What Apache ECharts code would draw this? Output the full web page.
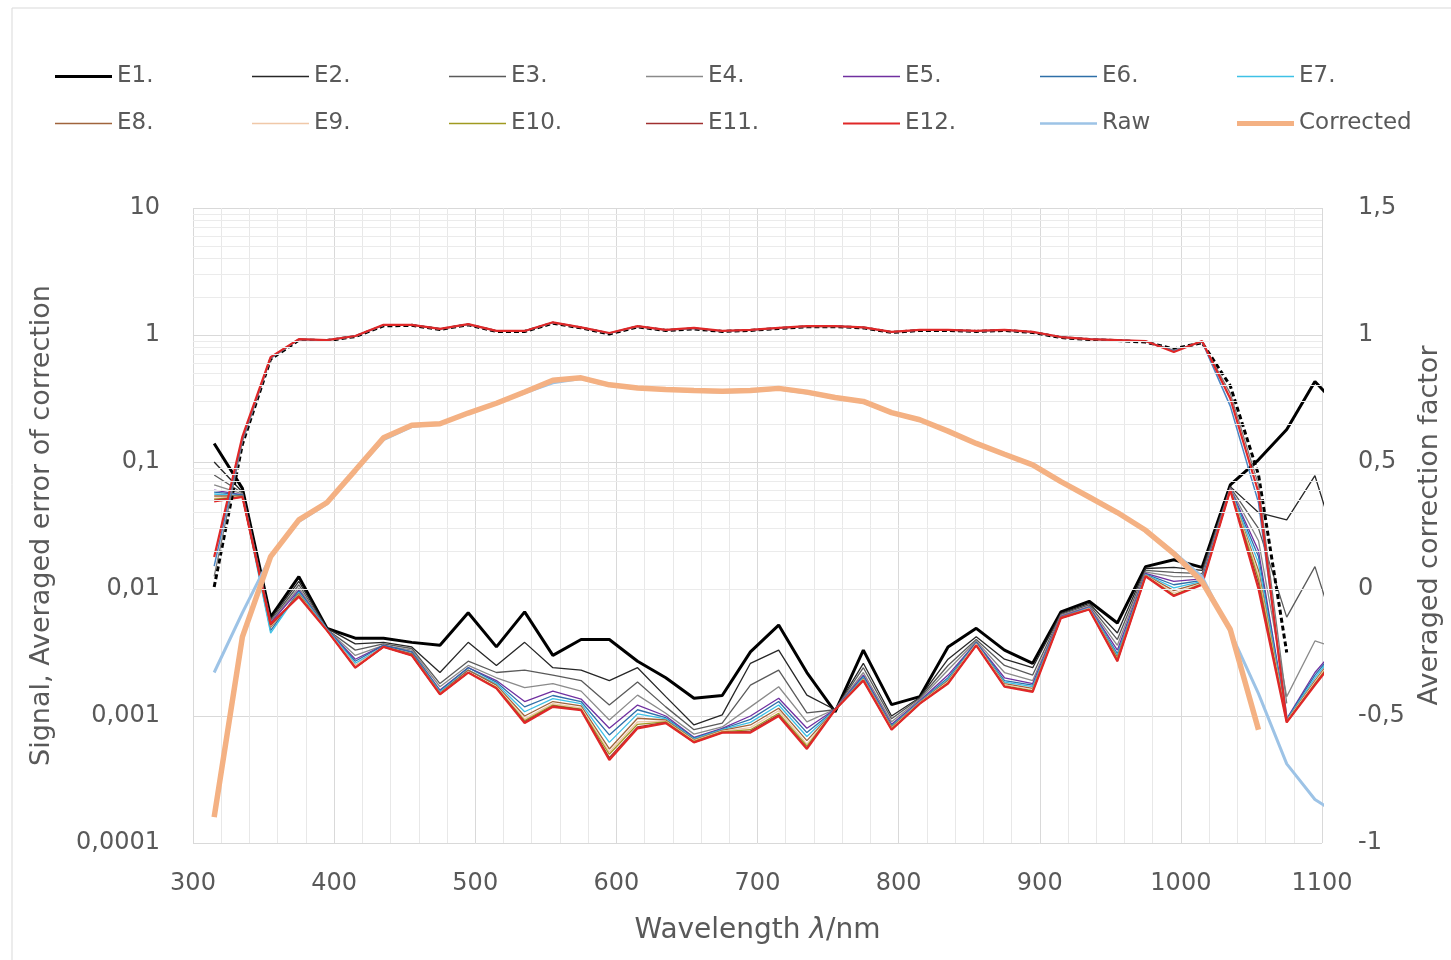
<!DOCTYPE html>
<html>
<head>
<meta charset="utf-8">
<script src="https://cdn.jsdelivr.net/npm/echarts@6/dist/echarts.min.js"></script>
<style>html,body{margin:0;padding:0;background:#fff}#chart{width:1451px;height:960px}</style>
</head>
<body>
<div id="chart"></div>
<script>
// ---- Data ----
const wavelengths = [315,335,355,375,395,415,435,455,475,495,515,535,555,575,595,615,635,655,675,695,715,735,755,775,795,815,835,855,875,895,915,935,955,975,995,1015,1035,1055,1075,1095,1115];

const xTicks = [300,400,500,600,700,800,900,1000,1100];
const leftTicks = [0.0001,0.001,0.01,0.1,1,10];
const rightTicks = [-1,-0.5,0,0.5,1,1.5];

// Averaged error of correction (left, log axis)
const E1  = [0.14,0.062,0.0060,0.0125,0.0049,0.0041,0.0041,0.0038,0.0036,0.0065,0.0035,0.0066,0.0030,0.0040,0.0040,0.0027,0.0020,0.00138,0.00145,0.0032,0.0052,0.0022,0.00108,0.0033,0.00123,0.00142,0.0035,0.0049,0.0033,0.0026,0.0066,0.0080,0.0054,0.0150,0.0170,0.0148,0.066,0.104,0.18,0.43,0.25];
const E2  = [0.100,0.058,0.0058,0.0115,0.0049,0.0037,0.0038,0.0035,0.0022,0.0038,0.0025,0.0038,0.0024,0.0023,0.0019,0.0024,0.00142,0.00085,0.00102,0.0026,0.0033,0.00146,0.00112,0.0026,0.0010,0.00140,0.0028,0.0042,0.0028,0.0024,0.0064,0.0077,0.0045,0.0145,0.0148,0.0140,0.064,0.040,0.035,0.078,0.015];
const E3  = [0.079,0.057,0.0056,0.0108,0.0048,0.0033,0.0037,0.0034,0.0018,0.0027,0.0022,0.0023,0.0021,0.0019,0.00122,0.00185,0.00118,0.00078,0.00088,0.00175,0.0023,0.00106,0.00112,0.0024,0.00095,0.00138,0.0025,0.0040,0.0025,0.0021,0.0063,0.0075,0.0040,0.0140,0.0135,0.0132,0.063,0.030,0.0060,0.0150,0.0030];
const E4  = [0.066,0.056,0.0055,0.0102,0.0048,0.0030,0.0036,0.0033,0.0017,0.0025,0.0020,0.00167,0.0018,0.00157,0.00093,0.00146,0.00105,0.00072,0.00082,0.00118,0.0017,0.00090,0.00113,0.0022,0.00090,0.00135,0.0023,0.0039,0.0022,0.0019,0.0062,0.0073,0.0036,0.0136,0.0125,0.0125,0.062,0.024,0.00142,0.0039,0.0033];
const E5  = [0.060,0.055,0.0054,0.0098,0.0048,0.0028,0.0036,0.0032,0.0016,0.0024,0.0019,0.00130,0.00157,0.00136,0.00080,0.00122,0.00100,0.00068,0.00080,0.00100,0.00138,0.00080,0.00113,0.0021,0.00086,0.00132,0.0021,0.0038,0.0020,0.0018,0.0061,0.0072,0.0033,0.0133,0.0115,0.0120,0.0615,0.020,0.00095,0.0022,0.0040];
const E6  = [0.058,0.055,0.0047,0.0096,0.0048,0.0027,0.0036,0.0032,0.00158,0.0024,0.00185,0.00118,0.00145,0.0013,0.00071,0.00112,0.00097,0.00067,0.00079,0.00094,0.0013,0.00074,0.00112,0.00205,0.00084,0.0013,0.0020,0.0038,0.0019,0.00175,0.0060,0.0071,0.0031,0.0131,0.0108,0.0117,0.061,0.018,0.00094,0.0021,0.0039];
const E7  = [0.056,0.054,0.0045,0.0094,0.0048,0.0026,0.0035,0.0031,0.00155,0.0023,0.0018,0.00108,0.00137,0.00125,0.00062,0.00104,0.00095,0.00066,0.00078,0.00089,0.00122,0.00069,0.00112,0.0020,0.00083,0.00129,0.00195,0.0037,0.00185,0.0017,0.0060,0.0071,0.0030,0.0130,0.0102,0.0115,0.061,0.016,0.00093,0.0020,0.0038];
const E8  = [0.054,0.054,0.0050,0.0092,0.0047,0.0025,0.0035,0.0031,0.00152,0.0023,0.00175,0.00100,0.0013,0.0012,0.00055,0.00096,0.00093,0.00065,0.00077,0.00085,0.00115,0.00064,0.00112,0.00197,0.00082,0.00128,0.0019,0.0037,0.0018,0.00165,0.0060,0.0070,0.0029,0.0129,0.0097,0.0113,0.0605,0.014,0.00092,0.0019,0.0037];
const E9  = [0.052,0.053,0.0051,0.0090,0.0047,0.0025,0.0035,0.0030,0.00150,0.0022,0.0017,0.00095,0.00125,0.00116,0.00052,0.0009,0.00091,0.00064,0.00076,0.00081,0.0011,0.0006,0.00112,0.00194,0.0008,0.00127,0.00186,0.0037,0.00176,0.0016,0.0059,0.0070,0.0028,0.0128,0.0093,0.0111,0.0605,0.013,0.00091,0.00185,0.0036];
const E10 = [0.051,0.053,0.0052,0.0089,0.0047,0.0024,0.0035,0.0030,0.00149,0.0022,0.00168,0.00092,0.00122,0.00113,0.00050,0.00086,0.0009,0.00063,0.00075,0.00078,0.00105,0.00058,0.00112,0.00192,0.00079,0.00126,0.00183,0.0036,0.00173,0.00158,0.0059,0.0069,0.0028,0.0127,0.0090,0.0110,0.060,0.012,0.0009,0.0018,0.0035];
const E11 = [0.050,0.053,0.0052,0.0088,0.0047,0.0024,0.0035,0.0030,0.00148,0.0022,0.00166,0.0009,0.0012,0.00112,0.00047,0.00082,0.00089,0.00062,0.00074,0.00076,0.00102,0.00056,0.00112,0.0019,0.00078,0.00125,0.00181,0.0036,0.00171,0.00156,0.0059,0.0069,0.0027,0.0126,0.0089,0.0109,0.060,0.011,0.00089,0.00178,0.0034];
const E12 = [0.049,0.053,0.0053,0.0087,0.0047,0.0024,0.0035,0.0030,0.00148,0.0022,0.00165,0.00088,0.00118,0.00111,0.00045,0.00080,0.00088,0.00062,0.00074,0.00074,0.00100,0.00055,0.00112,0.0019,0.00078,0.00125,0.0018,0.0036,0.0017,0.00155,0.0059,0.0069,0.0027,0.0126,0.0088,0.0108,0.060,0.010,0.00089,0.00175,0.0034];

// Signals (left, log axis)
const raw       = [0.0022,0.0065,0.018,0.034,0.047,0.085,0.15,0.19,0.20,0.24,0.29,0.35,0.42,0.455,0.40,0.38,0.37,0.36,0.356,0.36,0.375,0.35,0.32,0.295,0.243,0.212,0.175,0.14,0.115,0.095,0.070,0.053,0.040,0.029,0.0195,0.0125,0.0046,0.0015,0.00042,0.00022,0.00016];
const corrected = [0.00016,0.0042,0.018,0.035,0.048,0.086,0.155,0.195,0.20,0.243,0.29,0.356,0.44,0.46,0.405,0.382,0.372,0.365,0.36,0.365,0.38,0.355,0.322,0.30,0.245,0.215,0.175,0.14,0.115,0.095,0.070,0.053,0.040,0.029,0.019,0.0114,0.0048,0.00078,null,null,null];

// Averaged correction factors (right, linear axis) – not in legend
const factorRef = [0.008,0.57,0.905,0.98,0.978,0.994,1.036,1.038,1.022,1.04,1.014,1.014,1.046,1.028,1.004,1.032,1.018,1.024,1.014,1.018,1.026,1.032,1.033,1.028,1.01,1.018,1.018,1.014,1.018,1.01,0.99,0.982,0.978,0.972,0.945,0.97,0.80,0.45,-0.25,null,null];
const factorE3  = [0.05,0.58,0.908,0.982,0.979,0.995,1.038,1.039,1.023,1.041,1.015,1.015,1.048,1.029,1.006,1.033,1.019,1.026,1.015,1.019,1.027,1.033,1.034,1.029,1.011,1.019,1.019,1.015,1.019,1.011,0.991,0.983,0.979,0.974,0.94,0.972,0.77,0.41,-0.45,null,null];
const factorE6  = [0.09,0.59,0.91,0.983,0.98,0.996,1.039,1.04,1.024,1.042,1.016,1.016,1.049,1.03,1.007,1.034,1.02,1.027,1.016,1.02,1.028,1.034,1.035,1.03,1.012,1.02,1.02,1.016,1.02,1.012,0.992,0.984,0.98,0.975,0.937,0.974,0.72,0.34,-0.50,null,null];
const factorE12 = [0.126,0.60,0.913,0.984,0.98,0.996,1.04,1.04,1.024,1.043,1.016,1.016,1.05,1.03,1.008,1.035,1.02,1.028,1.016,1.02,1.028,1.035,1.035,1.03,1.012,1.02,1.02,1.016,1.02,1.012,0.992,0.984,0.98,0.976,0.933,0.976,0.75,0.38,-0.52,null,null];

// ---- Chart ----
const FONT = 'DejaVu Sans';
const TXT = '#595959';
const pair = arr => wavelengths.map((w, i) => [w, arr[i]]);

const errSeries = [
  ['E1.', E1, '#000000', 3],
  ['E2.', E2, '#262626', 1.3],
  ['E3.', E3, '#5a5a5a', 1.3],
  ['E4.', E4, '#8a8a8a', 1.3],
  ['E5.', E5, '#7030a0', 1.3],
  ['E6.', E6, '#2e6fa8', 1.3],
  ['E7.', E7, '#3ec1e6', 1.3],
  ['E8.', E8, '#a0643c', 1.3],
  ['E9.', E9, '#f0c8a8', 1.3],
  ['E10.', E10, '#a09a20', 1.3],
  ['E11.', E11, '#a03030', 1.3],
  ['E12.', E12, '#e02828', 2.2]
];

const series = [];
// minor log gridlines (2..9 x decade)
const minorVals = [];
[-4,-3,-2,-1,0].forEach(e => { for (let m = 2; m <= 9; m++) minorVals.push(m * Math.pow(10, e)); });
series.push({
  type: 'line', name: 'minorgrid', data: [], yAxisIndex: 0, z: 1, silent: true,
  markLine: { silent: true, symbol: ['none','none'], label: {show: false}, animation: false,
    lineStyle: { color: '#ebebeb', width: 1, type: 'solid' },
    emphasis: { disabled: true },
    data: minorVals.map(v => ({ yAxis: v })) }
});

errSeries.forEach(([name, arr, color, w]) => {
  series.push({ type: 'line', name, data: pair(arr), yAxisIndex: 0, symbol: 'none',
    lineStyle: { color, width: w }, itemStyle: { color }, z: 3 });
});

[
  ['Ref. factor', factorRef, '#000000', 3, [5, 3]],
  ['E3. factor', factorE3, '#7a7a7a', 1.3, 'solid'],
  ['E6. factor', factorE6, '#4a86c5', 1.5, 'solid'],
  ['E12. factor', factorE12, '#e02828', 2.2, 'solid']
].forEach(([name, arr, color, w, t]) => {
  series.push({ type: 'line', name, data: pair(arr), yAxisIndex: 1, symbol: 'none',
    lineStyle: { color, width: w, type: t }, itemStyle: { color }, z: 4 });
});

series.push({ type: 'line', name: 'Raw', data: pair(raw), yAxisIndex: 0, symbol: 'none',
  lineStyle: { color: '#9dc3e6', width: 3 }, itemStyle: { color: '#9dc3e6' }, z: 5 });
series.push({ type: 'line', name: 'Corrected', data: pair(corrected), yAxisIndex: 0, symbol: 'none',
  lineStyle: { color: '#f4b183', width: 5.5 }, itemStyle: { color: '#f4b183' }, z: 6 });

// legend: one component per item, laid out on a 7-column grid
const legendItems = errSeries.map(s => [s[0], s[2], s[0] === 'E1.' ? 3 : (s[0] === 'E12.' ? 2 : 1.5)])
  .concat([['Raw', '#9dc3e6', 2.5], ['Corrected', '#f4b183', 5]]);
const legends = legendItems.map(([name, color, h], i) => ({
  data: [{ name, icon: 'rect', itemStyle: { color } }],
  left: 55 + (i % 7) * 197, top: i < 7 ? 63 : 110,
  itemWidth: 57, itemHeight: h, itemGap: 0, padding: 0, selectedMode: false,
  textStyle: { fontSize: 23, color: TXT, fontFamily: FONT, lineHeight: 27 }
}));

const logLabel = v => {
  const e = Math.round(Math.log10(v));
  return e >= 0 ? String(Math.pow(10, e)) : '0,' + '0'.repeat(-e - 1) + '1';
};

const chart = echarts.init(document.getElementById('chart'), null, { renderer: 'canvas' });
chart.setOption({
  animation: false,
  backgroundColor: '#ffffff',
  textStyle: { fontFamily: FONT },
  graphic: [{ type: 'rect', shape: { x: 12, y: 8, width: 1500, height: 1000 }, silent: true,
    style: { fill: 'none', stroke: '#d9d9d9', lineWidth: 1 }, z: -1 }],
  legend: legends,
  grid: { left: 193, right: 123, top: 208, bottom: 117 },
  xAxis: {
    type: 'value', min: xTicks[0], max: xTicks[xTicks.length - 1], interval: 100,
    name: 'Wavelength {i|λ}/nm', nameLocation: 'middle', nameGap: 74,
    nameTextStyle: { fontSize: 28, color: TXT, fontFamily: FONT,
      rich: { i: { fontSize: 28, fontStyle: 'italic', color: TXT, fontFamily: FONT } } },
    axisLine: { show: false }, axisTick: { show: false },
    axisLabel: { fontSize: 24, color: TXT, fontFamily: FONT, margin: 29, formatter: v => String(v) },
    splitLine: { show: true, lineStyle: { color: '#d9d9d9', width: 1 } },
    minorTick: { show: false, splitNumber: 5 },
    minorSplitLine: { show: true, lineStyle: { color: '#e8e8e8', width: 1 } }
  },
  yAxis: [
    {
      type: 'log', logBase: 10, min: leftTicks[0], max: leftTicks[leftTicks.length - 1],
      name: 'Signal, Averaged error of correction', nameLocation: 'middle', nameGap: 138, nameRotate: 90,
      nameTextStyle: { fontSize: 27, color: TXT, fontFamily: FONT },
      axisLine: { show: false }, axisTick: { show: false },
      axisLabel: { fontSize: 24, color: TXT, fontFamily: FONT, margin: 33, formatter: logLabel },
      splitLine: { show: true, lineStyle: { color: '#d9d9d9', width: 1 } }
    },
    {
      type: 'value', position: 'right', min: rightTicks[0], max: rightTicks[rightTicks.length - 1], interval: 0.5,
      name: 'Averaged correction factor', nameLocation: 'middle', nameGap: 94, nameRotate: 90,
      nameTextStyle: { fontSize: 27, color: TXT, fontFamily: FONT },
      axisLine: { show: false }, axisTick: { show: false },
      axisLabel: { fontSize: 24, color: TXT, fontFamily: FONT, margin: 36,
        formatter: v => String(v).replace('.', ',') },
      splitLine: { show: false }
    }
  ],
  series
});
</script>
</body>
</html>
